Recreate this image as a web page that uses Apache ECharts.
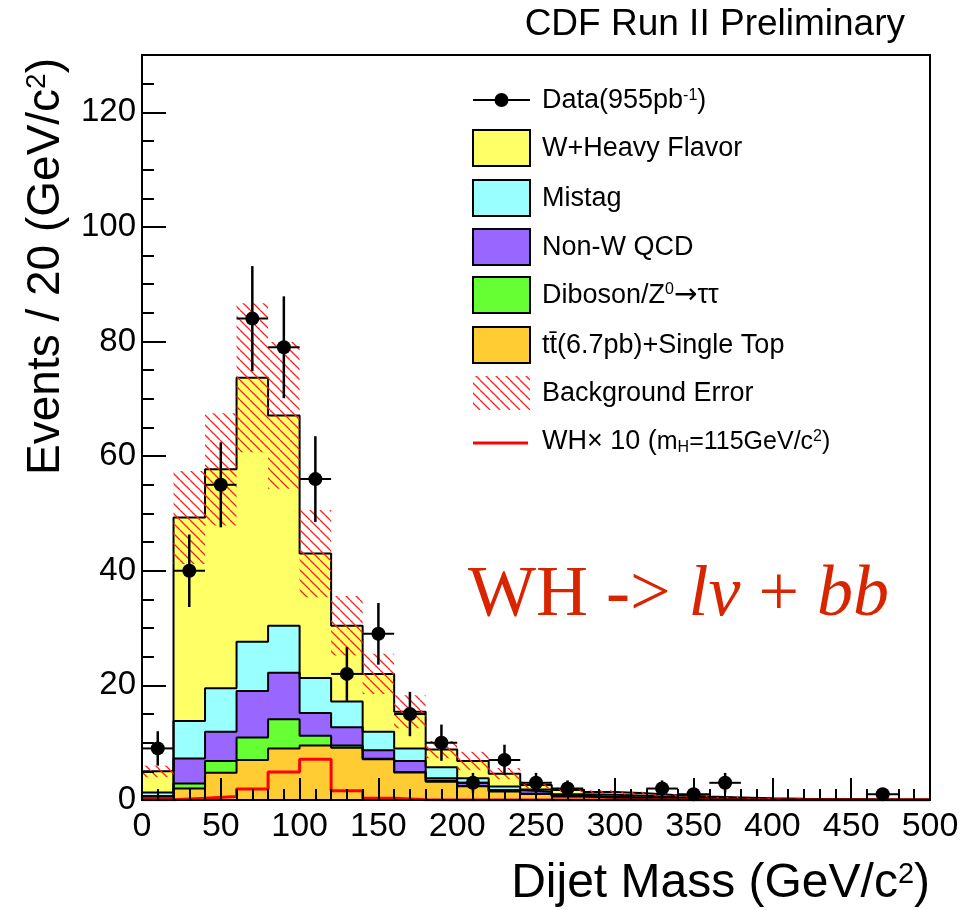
<!DOCTYPE html>
<html>
<head>
<meta charset="utf-8">
<script src="https://cdn.jsdelivr.net/npm/echarts@6/dist/echarts.min.js"></script>
<style>
  html, body { margin: 0; padding: 0; background: #ffffff; }
  #chart { width: 964px; height: 910px; }
</style>
</head>
<body>
<div id="chart"></div>
<script>
// Dijet mass histogram, 20 GeV/c^2 bins from 0 to 500
const binLow = [0, 20, 40, 60, 80, 100, 120, 140, 160, 180, 200, 220, 240, 260, 280, 300, 320, 340, 360, 380, 400, 420, 440, 460, 480];
const binWidth = 20;

// Observed events per bin
const dataEvents = [9, 40, 55, 84, 79, 56, 22, 29, 15, 10, 3, 7, 3, 2, 0, 0, 2, 1, 3, 0, 0, 0, 0, 1, 0];

// Background components (stacked bottom to top)
const topSingleTop = [0.15, 2.0, 4.75, 7.0, 9.0, 9.5, 9.1, 7.1, 4.8, 3.2, 2.4, 1.5, 1.05, 0.6, 0.4, 0.3, 0.2, 0.15, 0.1, 0.08, 0.05, 0.04, 0.03, 0.02, 0.02];
const dibosonZtt   = [0.10, 0.9, 2.05, 3.9, 5.1, 1.7, 0.4, 0.1, 0.1, 0.1, 0.05, 0.05, 0.05, 0.05, 0.05, 0.02, 0.02, 0.01, 0.01, 0.01, 0.01, 0, 0, 0, 0];
const nonWQCD      = [0.45, 4.35, 5.1, 8.1, 8.1, 4.0, 3.2, 1.5, 1.9, 0.5, 0.55, 0.2, 0.35, 0.1, 0.1, 0.1, 0.08, 0.05, 0.04, 0.02, 0.02, 0.01, 0.01, 0.01, 0.01];
const mistag       = [0.6, 6.55, 7.6, 8.6, 8.2, 6.1, 4.5, 3.2, 2.2, 1.9, 0.8, 0.6, 0.4, 0.25, 0.35, 0.3, 0.2, 0.15, 0.1, 0.05, 0.03, 0.03, 0.02, 0.02, 0.01];
const wHeavyFlavor = [3.7, 35.5, 38.2, 46.1, 36.7, 21.7, 13.2, 10.1, 6.4, 3.1, 3.0, 2.25, 0.75, 0.75, 0.5, 0.45, 0.35, 0.25, 0.2, 0.14, 0.1, 0.07, 0.05, 0.04, 0.03];

// Total background uncertainty (half width of the band)
const bkgError = [1.0, 8.1, 9.8, 13.0, 12.8, 7.6, 5.2, 3.5, 2.9, 1.5, 1.6, 1.0, 0.6, 0.4, 0.3, 0.25, 0.2, 0.15, 0.1, 0.08, 0.06, 0.05, 0.04, 0.03, 0.02];

// WH signal x10 (m_H = 115 GeV/c^2)
const whTimes10 = [0.05, 0.3, 0.6, 1.9, 4.9, 7.1, 1.6, 0.3, 0.05, 0, 0, 0, 0, 0, 0, 0, 0, 0, 0, 0, 0, 0, 0, 0, 0];

// Axis ticks
const xTickStep = 50, xMinorSplit = 5;
const yMajorStep = 20, yMinorStep = 5;
const yMax = 130;

const layers = [
  { name: 'tt(6.7pb)+Single Top', values: topSingleTop, color: '#ffcc33' },
  { name: 'Diboson/Z0->tautau', values: dibosonZtt, color: '#66ff33' },
  { name: 'Non-W QCD', values: nonWQCD, color: '#9966ff' },
  { name: 'Mistag', values: mistag, color: '#99ffff' },
  { name: 'W+Heavy Flavor', values: wHeavyFlavor, color: '#ffff66' }
];

const FONT = "'Liberation Sans', Arial, Helvetica, sans-serif";
const SERIF = "'Liberation Serif', 'Times New Roman', serif";

// cumulative sums for stacking
const cumulative = [];
layers.forEach((layer, k) => {
  cumulative.push(layer.values.map((v, i) => v + (k > 0 ? cumulative[k - 1][i] : 0)));
});
const total = cumulative[cumulative.length - 1];

// step outline points: left edge of each bin plus closing right edge
function stepPoints(vals) {
  const pts = binLow.map((x, i) => [x, vals[i]]);
  pts.push([binLow[binLow.length - 1] + binWidth, vals[vals.length - 1]]);
  return pts;
}

// hatch pattern for the background uncertainty
function makeHatch() {
  const s = 10;
  const c = document.createElement('canvas');
  c.width = s; c.height = s;
  const g = c.getContext('2d');
  g.strokeStyle = '#ff2020';
  g.lineWidth = 1.3;
  for (let k = -1; k <= 1; k++) {
    g.beginPath();
    g.moveTo(k * s, 0);
    g.lineTo(k * s + s, s);
    g.stroke();
  }
  return c;
}
const hatch = { image: makeHatch(), repeat: 'repeat' };

const series = [];
// stacked fills, drawn from the top of the stack downward
for (let k = layers.length - 1; k >= 0; k--) {
  series.push({
    type: 'line',
    name: layers[k].name,
    step: 'end',
    symbol: 'none',
    data: stepPoints(cumulative[k]),
    lineStyle: { color: '#000', width: 2 },
    areaStyle: { color: layers[k].color, opacity: 1 },
    z: 2,
    silent: true
  });
}

// signal
series.push({
  type: 'line',
  name: 'WH x 10',
  step: 'end',
  symbol: 'none',
  data: stepPoints(whTimes10),
  lineStyle: { color: '#ff0000', width: 3 },
  z: 3,
  silent: true
});

// background uncertainty band
series.push({
  type: 'custom',
  name: 'Background Error',
  data: binLow.map((x, i) => [x, x + binWidth, total[i] - bkgError[i], total[i] + bkgError[i]]),
  encode: { x: [0, 1], y: [2, 3] },
  renderItem: function (params, api) {
    const a = api.coord([api.value(0), api.value(3)]);
    const b = api.coord([api.value(1), api.value(2)]);
    return {
      type: 'rect',
      shape: { x: a[0], y: a[1], width: b[0] - a[0], height: b[1] - a[1] },
      style: { fill: hatch, stroke: null }
    };
  },
  z: 4,
  silent: true
});

// data with error bars
const dataPts = [];
binLow.forEach((x, i) => {
  if (dataEvents[i] > 0) dataPts.push([x + binWidth / 2, dataEvents[i], Math.sqrt(dataEvents[i])]);
});
series.push({
  type: 'custom',
  name: 'Data errors',
  data: dataPts,
  encode: { x: 0, y: 1 },
  renderItem: function (params, api) {
    const x = api.value(0), y = api.value(1), e = api.value(2);
    const l = api.coord([x - binWidth / 2, y]);
    const r = api.coord([x + binWidth / 2, y]);
    const t = api.coord([x, y + e]);
    const b = api.coord([x, y - e]);
    return {
      type: 'group',
      children: [
        { type: 'line', shape: { x1: l[0], y1: l[1], x2: r[0], y2: r[1] }, style: { stroke: '#000', lineWidth: 2 } },
        { type: 'line', shape: { x1: t[0], y1: t[1], x2: b[0], y2: b[1] }, style: { stroke: '#000', lineWidth: 2.5 } }
      ]
    };
  },
  z: 6,
  silent: true
});
series.push({
  type: 'scatter',
  name: 'Data',
  data: dataPts.map(p => [p[0], p[1]]),
  symbol: 'circle',
  symbolSize: 14,
  itemStyle: { color: '#000', opacity: 1 },
  z: 7,
  silent: true
});

// legend (drawn as graphics)
const legendX = 473, legendW = 57, legendH = 36, textX = 542;
const legendRows = [100, 148, 198, 247, 295, 345, 393, 441];
const legendFill = ['#ffff66', '#99ffff', '#9966ff', '#66ff33', '#ffcc33'];
const legendText = [
  'Data(955pb{sup|-1})',
  'W+Heavy Flavor',
  'Mistag',
  'Non-W QCD',
  'Diboson/Z{sup|0}{ar|\u2192}\u03c4\u03c4',
  'tt\u0304(6.7pb)+Single Top',
  'Background Error',
  'WH\u00d7 10 ({sm|m}{sub|H}{sm|=115GeV/c}{sup|2}{sm|)}'
];
const richSub = {
  sup: { fontSize: 16, fontFamily: FONT, verticalAlign: 'top', lineHeight: 16, fill: '#000' },
  sub: { fontSize: 16, fontFamily: FONT, verticalAlign: 'bottom', lineHeight: 16, fill: '#000' },
  sm: { fontSize: 25, fontFamily: FONT, fill: '#000' },
  ar: { fontSize: 28, fontFamily: "'DejaVu Sans', sans-serif", fill: '#000' }
};
const graphics = [];
// data icon
graphics.push({ type: 'line', shape: { x1: legendX, y1: legendRows[0], x2: legendX + legendW, y2: legendRows[0] }, style: { stroke: '#000', lineWidth: 2 } });
graphics.push({ type: 'circle', shape: { cx: legendX + legendW / 2, cy: legendRows[0], r: 7 }, style: { fill: '#000' } });
// filled boxes
legendFill.forEach((c, i) => {
  graphics.push({ type: 'rect', shape: { x: legendX, y: legendRows[i + 1] - legendH / 2, width: legendW, height: legendH }, style: { fill: c, stroke: '#000', lineWidth: 2 } });
});
// hatch box
graphics.push({ type: 'rect', shape: { x: legendX, y: legendRows[6] - 17, width: legendW, height: 34 }, style: { fill: hatch } });
// signal line
graphics.push({ type: 'line', shape: { x1: legendX, y1: legendRows[7] + 2, x2: legendX + legendW - 2, y2: legendRows[7] + 2 }, style: { stroke: '#ff0000', lineWidth: 3 } });
legendText.forEach((t, i) => {
  graphics.push({
    type: 'text', x: textX, y: legendRows[i] + 1,
    style: { text: t, rich: richSub, font: '27px ' + FONT, fill: '#000', textAlign: 'left', textVerticalAlign: 'middle' }
  });
});

// titles
graphics.push({
  type: 'text', x: 905, y: 25,
  style: { text: 'CDF Run II Preliminary', font: '37px ' + FONT, fill: '#000', textAlign: 'right', textVerticalAlign: 'middle' }
});
graphics.push({
  type: 'text', x: 46, y: 58, rotation: Math.PI / 2,
  style: {
    text: 'Events / 20 (GeV/c{s|2})',
    rich: { s: { fontSize: 28, fontFamily: FONT, verticalAlign: 'top', lineHeight: 28, fill: '#000' } },
    font: '46px ' + FONT, fill: '#000', textAlign: 'right', textVerticalAlign: 'middle'
  }
});
graphics.push({
  type: 'text', x: 930, y: 884,
  style: {
    text: 'Dijet Mass (GeV/c{s|2})',
    rich: { s: { fontSize: 29, fontFamily: FONT, verticalAlign: 'top', lineHeight: 29, fill: '#000' } },
    font: '48px ' + FONT, fill: '#000', textAlign: 'right', textVerticalAlign: 'middle'
  }
});
graphics.push({
  type: 'text', x: 468, y: 596,
  style: {
    text: '{n|WH -> }{i|l\u03bd}{n| + }{i|bb}',
    rich: {
      n: { fontSize: 72, fontFamily: SERIF, fill: '#d92400' },
      i: { fontSize: 72, fontFamily: SERIF, fontStyle: 'italic', fill: '#d92400' }
    },
    textAlign: 'left', textVerticalAlign: 'middle'
  }
});

const chart = echarts.init(document.getElementById('chart'), null, { renderer: 'canvas' });
chart.setOption({
  animation: false,
  backgroundColor: '#ffffff',
  grid: { left: 142, right: 34, top: 55, bottom: 110, show: true, borderColor: '#000', borderWidth: 2, backgroundColor: 'transparent' },
  xAxis: {
    type: 'value', min: 0, max: 500, interval: xTickStep, z: 10,
    axisLine: { show: true, lineStyle: { color: '#000', width: 2 } },
    axisTick: { show: true, inside: true, length: 22, lineStyle: { color: '#000', width: 2 } },
    minorTick: { show: true, splitNumber: xMinorSplit, length: 11, lineStyle: { color: '#000', width: 2 } },
    splitLine: { show: false },
    axisLabel: { color: '#000', fontSize: 34, fontFamily: FONT, margin: 10 }
  },
  yAxis: [
    {
      type: 'value', min: 0, max: yMax, interval: yMajorStep, z: 10,
      axisLine: { show: true, lineStyle: { color: '#000', width: 2 } },
      axisTick: { show: true, inside: true, length: 24, lineStyle: { color: '#000', width: 2 } },
      splitLine: { show: false },
      axisLabel: {
        color: '#000', fontSize: 33, fontFamily: FONT, margin: 6,
        formatter: v => (v % yMajorStep === 0 ? String(v) : '')
      }
    },
    {
      type: 'value', min: 0, max: yMax, interval: yMinorStep, position: 'left', z: 10,
      axisLine: { show: false },
      axisTick: { show: true, inside: true, length: 12, lineStyle: { color: '#000', width: 2 } },
      splitLine: { show: false },
      axisLabel: { show: false }
    }
  ],
  series: series,
  graphic: graphics
});
</script>
</body>
</html>
